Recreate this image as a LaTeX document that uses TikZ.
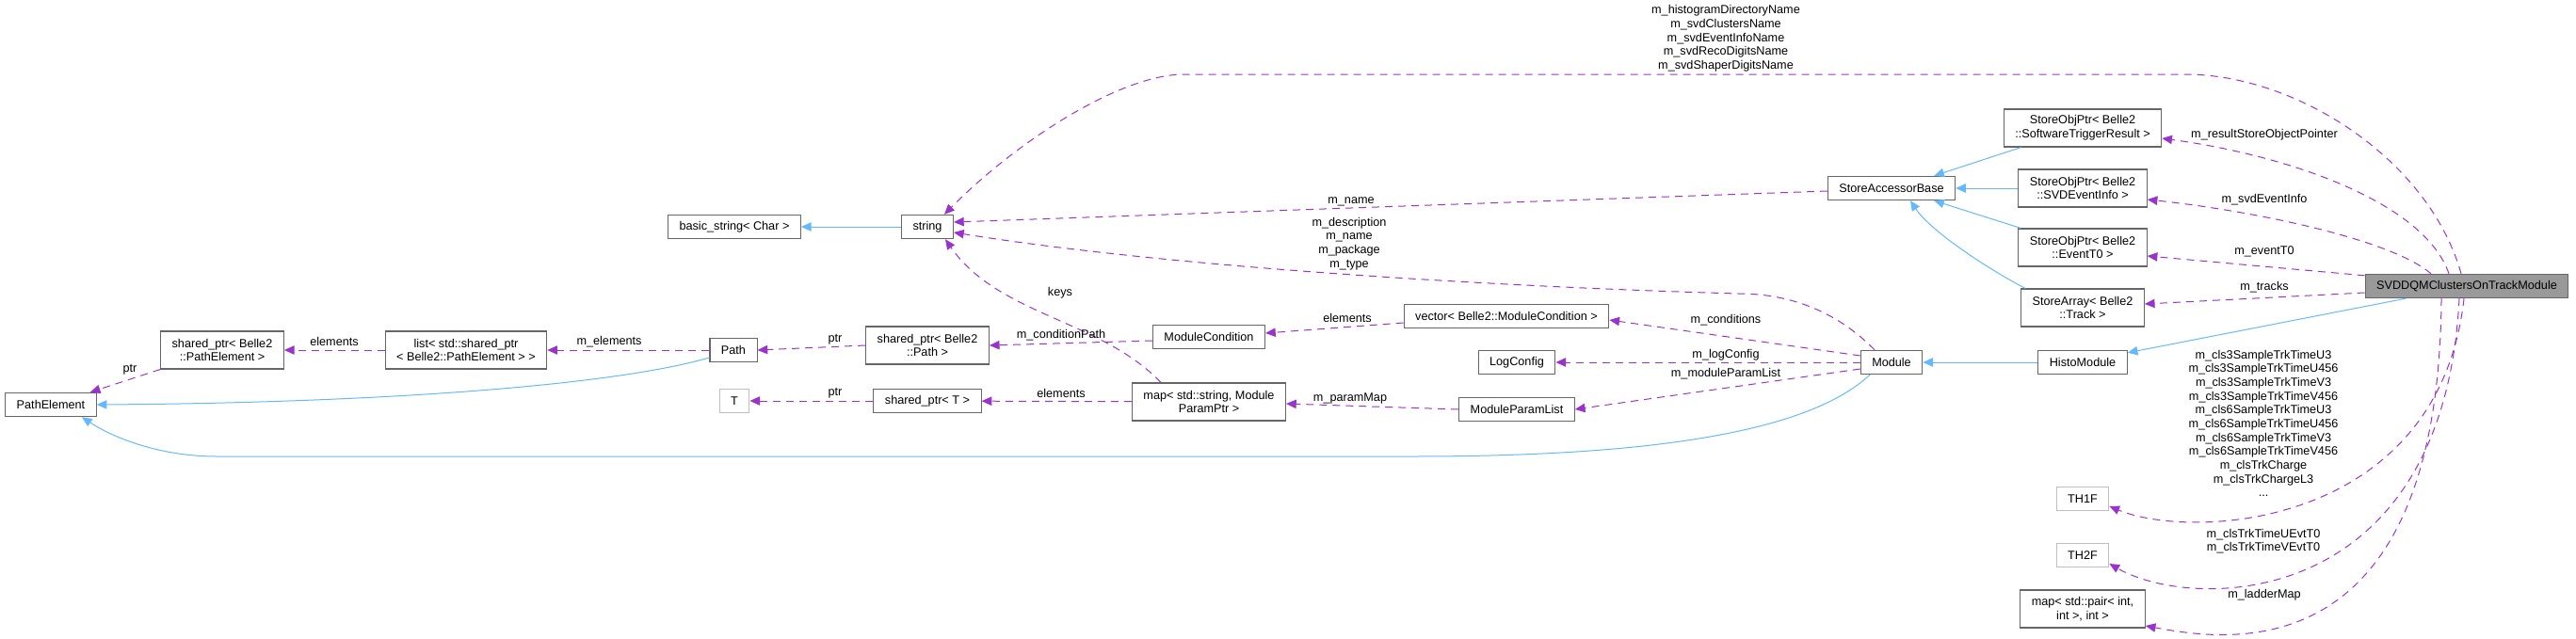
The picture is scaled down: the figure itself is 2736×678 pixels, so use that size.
\documentclass[tikz,border=0pt]{standalone}
\usepackage{fontspec}
\setmainfont{Liberation Sans}
\usetikzlibrary{arrows.meta,calc}
\definecolor{edgepurple}{HTML}{9A32CD}
\definecolor{inhblue}{HTML}{63B8FF}
\definecolor{boxgray}{HTML}{666666}
\definecolor{extgray}{HTML}{BFBFBF}
\definecolor{mainfill}{HTML}{999999}
\tikzset{
  cls/.style={draw=boxgray, line width=0.8pt, fill=white, inner xsep=9pt, inner ysep=0pt,
    minimum height=19pt, align=center, font=\fontsize{9.5}{11}\selectfont},
  twoline/.style={minimum height=30pt},
  extcls/.style={cls, draw=extgray},
  maincls/.style={cls, fill=mainfill},
  usage/.style={edgepurple, line width=0.75pt, dash pattern=on 6pt off 4.5pt,
    -{Triangle[length=8pt,width=7pt]}},
  inherit/.style={inhblue, line width=0.75pt, -{Triangle[length=8pt,width=7pt]}},
  lbl/.style={inner sep=0pt, align=center, font=\fontsize{9.5}{11}\selectfont},
}
\begin{document}
\begin{tikzpicture}[x=0.75pt,y=-0.75pt]
  \useasboundingbox (0,0) rectangle (2736,678);
  % classes
  \node[cls] (pathelem) at (54,430) {PathElement};
  \node[cls,twoline] (spelem) at (236,372) {shared\_ptr< Belle2\\::PathElement >};
  \node[cls,twoline] (listelem) at (495,372) {list< std::shared\_ptr\\< Belle2::PathElement > >};
  \node[cls] (pathcls) at (779,372) {Path};
  \node[cls,twoline] (sppath) at (985,367) {shared\_ptr< Belle2\\::Path >};
  \node[extcls] (tnode) at (780,426) {T};
  \node[cls] (spt) at (985,426) {shared\_ptr< T >};
  \node[cls] (basicstr) at (780,241) {basic\_string< Char >};
  \node[cls] (str) at (985,241) {string};
  \node[cls] (modcond) at (1284,358) {ModuleCondition};
  \node[cls,twoline] (parammap) at (1284,427) {map< std::string, Module\\ParamPtr >};
  \node[cls] (condvec) at (1600,336) {vector< Belle2::ModuleCondition >};
  \node[cls] (logcfg) at (1611,385) {LogConfig};
  \node[cls] (paramlist) at (1611,435) {ModuleParamList};
  \node[cls] (module) at (2009,385) {Module};
  \node[cls] (accbase) at (2009,200) {StoreAccessorBase};
  \node[cls,twoline] (trigptr) at (2212,136) {StoreObjPtr< Belle2\\::SoftwareTriggerResult >};
  \node[cls,twoline] (infoptr) at (2212,200) {StoreObjPtr< Belle2\\::SVDEventInfo >};
  \node[cls,twoline] (t0ptr) at (2212,263) {StoreObjPtr< Belle2\\::EventT0 >};
  \node[cls,twoline] (trackarr) at (2212,327) {StoreArray< Belle2\\::Track >};
  \node[cls] (histo) at (2212,385) {HistoModule};
  \node[maincls] (svdmod) at (2620,304) {SVDDQMClustersOnTrackModule};
  \node[extcls] (hist1) at (2212,530) {TH1F};
  \node[extcls] (hist2) at (2212,590) {TH2F};
  \node[cls,twoline] (laddermap) at (2212,647) {map< std::pair< int,\\int >, int >};

  % inheritance
  \draw[inherit] (str) -- (basicstr);
  \draw[inherit] ($(pathcls.west)+(0,8)$) .. controls (650,410) and (400,428) .. (pathelem.east);
  \draw[inherit] ($(module.south)+(-23,0)$) .. controls (1920,460) and (1750,485) .. (1500,485)
    -- (230,485) .. controls (170,485) and (120,465) .. ($(pathelem.south)+(33,0)$);
  \draw[inherit] (histo) -- (module);
  \draw[inherit] ($(svdmod.south)+(-65,0)$) -- ($(histo.north east)+(0,3)$);
  \draw[inherit] ($(trigptr.south west)+(19,0)$) -- ($(accbase.north east)+(-23,0)$);
  \draw[inherit] (infoptr) -- (accbase);
  \draw[inherit] ($(t0ptr.north west)+(3,0)$) -- ($(accbase.south east)+(-23,0)$);
  \draw[inherit] ($(trackarr.north west)+(5,0)$) .. controls (2110,285) and (2050,245) .. ($(accbase.south)+(20,0)$);

  % members
  \draw[usage] (spelem.south west) -- ($(pathelem.north east)+(-7,0)$);
  \draw[usage] (listelem) -- (spelem);
  \draw[usage] (pathcls) -- (listelem);
  \draw[usage] (sppath.west) -- (pathcls.east);
  \draw[usage] ($(modcond.west)+(0,4)$) -- (sppath.east);
  \draw[usage] ($(condvec.west)+(0,7)$) -- ($(modcond.east)+(0,-4)$);
  \draw[usage] (spt) -- (tnode);
  \draw[usage] (parammap) -- (spt);
  \draw[usage] (paramlist.west) -- ($(parammap.east)+(0,2)$);
  \draw[usage] ($(parammap.north)+(-51,0)$) .. controls (1170,340) and (1060,335) .. ($(str.south)+(19,0)$);
  \draw[usage] ($(module.west)+(0,-7)$) -- ($(condvec.east)+(0,4)$);
  \draw[usage] (module) -- (logcfg);
  \draw[usage] ($(module.west)+(0,7)$) -- (paramlist.east);
  \draw[usage] ($(module.north)+(-18,0)$) .. controls (1950,330) and (1900,312) .. (1846,312)
    .. controls (1600,305) and (1250,285) .. ($(str.east)+(0,6)$);
  \draw[usage] ($(accbase.west)+(0,3)$) -- ($(str.east)+(0,-5)$);
  \draw[usage] ($(svdmod.north)+(-6,0)$) .. controls (2580,170) and (2440,79) .. (2321,79)
    -- (1258,79) .. controls (1190,79) and (1080,150) .. ($(str.north)+(18,0)$);
  \draw[usage] ($(svdmod.north)+(-19,0)$) .. controls (2575,215) and (2430,165) .. ($(trigptr.east)+(0,11)$);
  \draw[usage] ($(svdmod.north)+(-38,0)$) .. controls (2540,255) and (2400,225) .. ($(infoptr.east)+(0,12)$);
  \draw[usage] ($(svdmod.north west)+(0,2)$) -- ($(t0ptr.east)+(0,9)$);
  \draw[usage] ($(svdmod.west)+(0,7)$) -- ($(trackarr.east)+(0,-4)$);
  \draw[usage] ($(svdmod.south)+(-3,0)$) .. controls (2590,560) and (2330,575) .. ($(hist1.east)+(0,8)$);
  \draw[usage] ($(svdmod.south)+(-8,0)$) .. controls (2595,650) and (2330,650) .. ($(hist2.east)+(0,9)$);
  \draw[usage] ($(svdmod.south)+(-27,0)$) .. controls (2590,720) and (2360,680) .. ($(laddermap.east)+(0,18)$);

  % edge labels
  \node[lbl] (lbltop) at (1833,41) {m\_histogramDirectoryName\\m\_svdClustersName\\m\_svdEventInfoName\\m\_svdRecoDigitsName\\m\_svdShaperDigitsName};
  \node[lbl] (lblname) at (1435,214) {m\_name};
  \node[lbl] (lbldesc) at (1433,259) {m\_description\\m\_name\\m\_package\\m\_type};
  \node[lbl] (lblkeys) at (1126,311) {keys};
  \node[lbl] (lblcondel) at (1431,338) {elements};
  \node[lbl] (lblcondpath) at (1127,356) {m\_conditionPath};
  \node[lbl] (lblptrpath) at (887,361) {ptr};
  \node[lbl] (lblmel) at (647,363) {m\_elements};
  \node[lbl] (lblel) at (355,363) {elements};
  \node[lbl] (lblptrel) at (138,393) {ptr};
  \node[lbl] (lblptrt) at (887,418) {ptr};
  \node[lbl] (lblmapel) at (1127,418) {elements};
  \node[lbl] (lblparam) at (1434,423) {m\_paramMap};
  \node[lbl] (lblcond) at (1833,340) {m\_conditions};
  \node[lbl] (lbllog) at (1833,377) {m\_logConfig};
  \node[lbl] (lblplist) at (1833,397) {m\_moduleParamList};
  \node[lbl] (lbltrig) at (2405,143) {m\_resultStoreObjectPointer};
  \node[lbl] (lblinfo) at (2405,212) {m\_svdEventInfo};
  \node[lbl] (lblt0) at (2405,267) {m\_eventT0};
  \node[lbl] (lbltracks) at (2405,305) {m\_tracks};
  \node[lbl] (lblhist1) at (2404,450) {m\_cls3SampleTrkTimeU3\\m\_cls3SampleTrkTimeU456\\m\_cls3SampleTrkTimeV3\\m\_cls3SampleTrkTimeV456\\m\_cls6SampleTrkTimeU3\\m\_cls6SampleTrkTimeU456\\m\_cls6SampleTrkTimeV3\\m\_cls6SampleTrkTimeV456\\m\_clsTrkCharge\\m\_clsTrkChargeL3\\...};
  \node[lbl] (lblhist2) at (2404,575) {m\_clsTrkTimeUEvtT0\\m\_clsTrkTimeVEvtT0};
  \node[lbl] (lblladder) at (2405,632) {m\_ladderMap};
\end{tikzpicture}
\end{document}
